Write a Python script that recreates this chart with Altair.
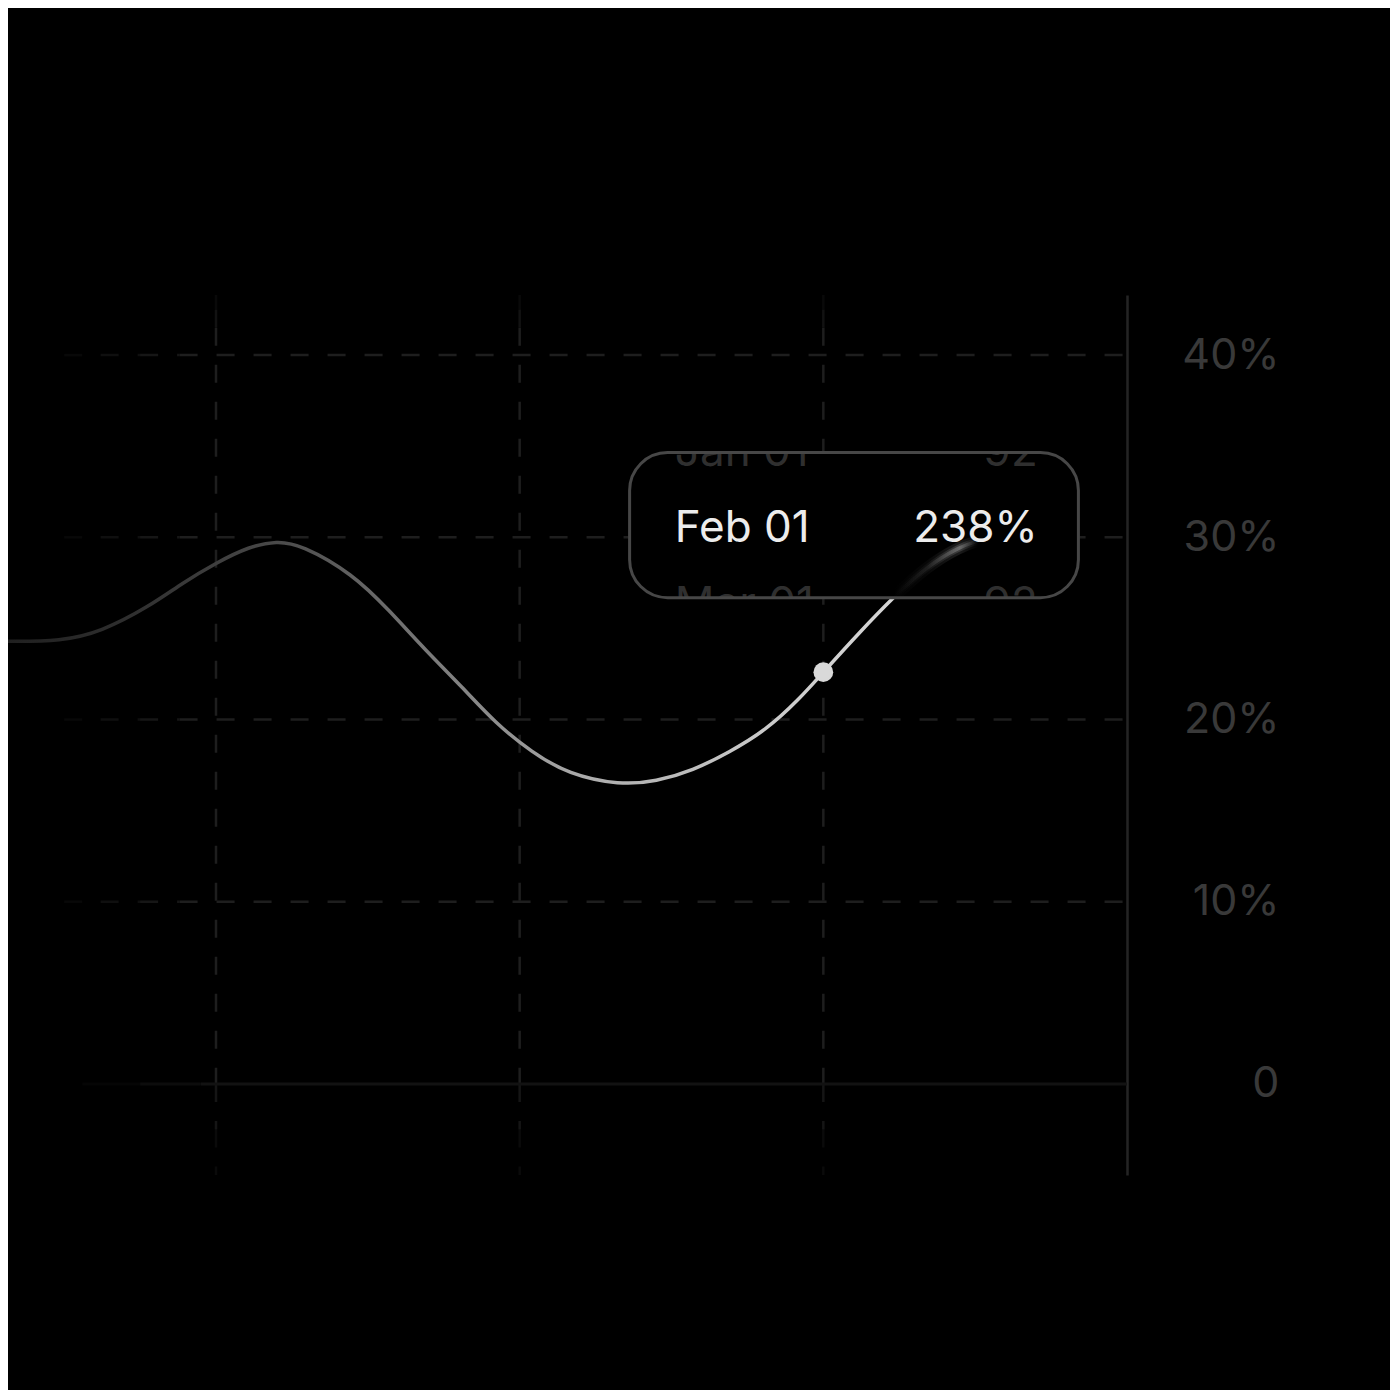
import altair as alt
import pandas as pd

# ---- data ----
LINE_X = [0.315, 0.49, 0.62, 0.78, 0.89, 1.00, 1.11, 1.20, 1.28, 1.45, 1.57, 1.69, 1.81, 1.92,
          2.04, 2.16, 2.33, 2.45, 2.57, 2.69, 2.81, 2.92, 3.00, 3.12, 3.23, 3.34, 3.45, 3.51]
LINE_Y = [24.3, 24.3, 24.8, 26.2, 27.5, 28.6, 29.5, 29.8, 29.6, 28.0, 26.0, 23.8, 21.8, 19.8,
          18.2, 17.0, 16.4, 16.6, 17.2, 18.2, 19.4, 21.1, 22.6, 24.8, 26.7, 28.4, 29.5, 29.8]
GLOW_FROM = 3.23

FOCUS_X = [3.0]
FOCUS_Y = [22.6]

Y_TICKS = [0, 10, 20, 30, 40]
H_GRID = [10, 20, 30, 40]
V_GRID = [1, 2, 3]
X_DOMAIN = [0.315, 4.0]
Y_DOMAIN = [-5.0, 43.3]

# fade segments (start, end, opacity)
H_FADE = [(0.50, 0.62, 0.25), (0.62, 0.75, 0.5), (0.75, 0.88, 0.75), (0.88, 4.0, 1.0)]
V_FADE = [(43.3, 42.5, 0.3), (42.5, 41.5, 0.6), (41.5, 0.0, 1.0), (0.0, -2.5, 0.7), (-2.5, -5.0, 0.35)]
ZERO_FADE = [(0.56, 0.75, 0.3), (0.75, 0.95, 0.65), (0.95, 4.0, 1.0)]

TIP_DATES = ["Jan 01", "Feb 01", "Mar 01"]
TIP_VALUES = ["92", "238%", "92"]
TIP_ROW_Y = [33.91, 29.74, 25.57]
TIP_ACTIVE = [False, True, False]
TIP_LEFT = 2.511
TIP_RIGHT = 3.706
BOX_X = [2.362, 3.840]
BOX_Y = [26.69, 34.65]
MASK_X = [(2.48, 2.98), (3.50, 3.73)]
MASK_Y = [(34.65, 36.3), (25.1, 26.69)]

# ---- helpers ----
XS = alt.Scale(domain=X_DOMAIN, nice=False, zero=False)
YS = alt.Scale(domain=Y_DOMAIN, nice=False, zero=False)
YAXIS = alt.Axis(orient="right", values=Y_TICKS,
                 labelExpr="datum.value == 0 ? '0' : datum.value + '%'",
                 grid=False, ticks=False, tickSize=0, domain=True,
                 domainColor="#242424", domainWidth=2.5,
                 labelFont="Inter", labelFontSize=43, labelColor="#393939",
                 labelAlign="right", labelPadding=152, title=None,
                 labelFlush=False, labelOverlap=False)


def X(f="x"):
    return alt.X(f"{f}:Q", scale=XS, axis=None)


def Y(f="y"):
    return alt.Y(f"{f}:Q", scale=YS, axis=YAXIS)


GRID_COLOR = "#1e1e1e"

hrows = [dict(x=a, x2=b, y=v, op=o) for v in H_GRID for (a, b, o) in H_FADE]
vrows = [dict(x=v, y=a, y2=b, op=o) for v in V_GRID for (a, b, o) in V_FADE]
zrows = [dict(x=a, x2=b, y=0, op=o) for (a, b, o) in ZERO_FADE]

hgrid = alt.Chart(pd.DataFrame(hrows)).mark_rule(
    color=GRID_COLOR, strokeWidth=2.5, strokeDash=[18, 19]
).encode(x=X(), x2="x2:Q", y=Y(), opacity=alt.Opacity("op:Q", scale=None))

vgrid = alt.Chart(pd.DataFrame(vrows)).mark_rule(
    color=GRID_COLOR, strokeWidth=2.5, strokeDash=[18, 19]
).encode(x=X(), y=Y(), y2="y2:Q", opacity=alt.Opacity("op:Q", scale=None))

zline = alt.Chart(pd.DataFrame(zrows)).mark_rule(
    color="#121212", strokeWidth=3
).encode(x=X(), x2="x2:Q", y=Y(), opacity=alt.Opacity("op:Q", scale=None))

line_df = pd.DataFrame({"x": LINE_X, "y": LINE_Y})
line_grad = {
    "gradient": "linear", "x1": 0, "x2": 1, "y1": 0, "y2": 0,
    "stops": [
        {"offset": 0.0, "color": "#202020"},
        {"offset": 0.12, "color": "#2e2e2e"},
        {"offset": 0.28, "color": "#4a4a4a"},
        {"offset": 0.45, "color": "#7e7e7e"},
        {"offset": 0.6, "color": "#adadad"},
        {"offset": 0.8, "color": "#cdcdcd"},
        {"offset": 1.0, "color": "#dcdcdc"},
    ],
}
line = alt.Chart(line_df).mark_line(
    interpolate="basis", strokeWidth=3.5, color=line_grad, strokeCap="round"
).encode(x=X(), y=Y())

focus = alt.Chart(pd.DataFrame({"x": FOCUS_X, "y": FOCUS_Y})).mark_circle(
    size=390, color="#d9d9d9", opacity=1
).encode(x=X(), y=Y())

box_df = pd.DataFrame({"x": [BOX_X[0]], "x2": [BOX_X[1]], "y": [BOX_Y[0]], "y2": [BOX_Y[1]]})
box_fill = alt.Chart(box_df).mark_rect(
    cornerRadius=38, color="#000000", opacity=1
).encode(x=X(), x2="x2:Q", y=Y(), y2="y2:Q")
box_border = alt.Chart(box_df).mark_rect(
    cornerRadius=38, fill=None, fillOpacity=0, stroke="#474747", strokeWidth=3
).encode(x=X(), x2="x2:Q", y=Y(), y2="y2:Q")

tip_df = pd.DataFrame({"date": TIP_DATES, "val": TIP_VALUES, "y": TIP_ROW_Y,
                       "active": TIP_ACTIVE,
                       "xl": [TIP_LEFT] * 3, "xr": [TIP_RIGHT] * 3})
faded = tip_df[~tip_df["active"]]
active = tip_df[tip_df["active"]]

FADED_COLOR = "#2f2f2f"
faded_l = alt.Chart(faded).mark_text(
    font="Inter", fontSize=44, color=FADED_COLOR, align="left", baseline="alphabetic"
).encode(x=X("xl"), y=Y(), text="date:N")
faded_r = alt.Chart(faded).mark_text(
    font="Inter", fontSize=44, color=FADED_COLOR, align="right", baseline="alphabetic"
).encode(x=X("xr"), y=Y(), text="val:N")

mask_df = pd.DataFrame([dict(x=a, x2=b, y=c, y2=d) for (a, b) in MASK_X for (c, d) in MASK_Y])
masks = alt.Chart(mask_df).mark_rect(color="#000000", opacity=1).encode(
    x=X(), x2="x2:Q", y=Y(), y2="y2:Q")

glow_df = line_df[line_df["x"] >= GLOW_FROM]
glow_grad = {
    "gradient": "linear", "x1": 0, "x2": 1, "y1": 0, "y2": 0,
    "stops": [
        {"offset": 0.0, "color": "rgba(190,190,190,0)"},
        {"offset": 0.4, "color": "rgba(190,190,190,0.10)"},
        {"offset": 0.78, "color": "rgba(205,205,205,0.38)"},
        {"offset": 1.0, "color": "rgba(205,205,205,0.0)"},
    ],
}
glow_wide = alt.Chart(glow_df).mark_line(
    interpolate="basis", strokeWidth=12, color=glow_grad, opacity=0.35, strokeCap="round"
).encode(x=X(), y=Y())
glow_mid = alt.Chart(glow_df).mark_line(
    interpolate="basis", strokeWidth=7, color=glow_grad, opacity=0.5, strokeCap="round"
).encode(x=X(), y=Y())
glow_core = alt.Chart(glow_df).mark_line(
    interpolate="basis", strokeWidth=3.5, color=glow_grad, opacity=0.8, strokeCap="round"
).encode(x=X(), y=Y())

main_l = alt.Chart(active).mark_text(
    font="Inter", fontSize=44, color="#ececec", align="left", baseline="alphabetic"
).encode(x=X("xl"), y=Y(), text="date:N")
main_r = alt.Chart(active).mark_text(
    font="Inter", fontSize=44, color="#ececec", align="right", baseline="alphabetic"
).encode(x=X("xr"), y=Y(), text="val:N")

chart = alt.layer(
    hgrid, vgrid, zline, line, focus, box_fill, faded_l, faded_r, masks,
    glow_wide, glow_mid, glow_core, box_border, main_l, main_r
).properties(
    width=1119, height=880,
    autosize=alt.AutoSizeParams(type="none"),
    padding={"left": 0, "top": 287, "right": 263, "bottom": 215},
    background="#000000",
).configure_view(stroke=None)

chart.save("out.html", embed_options={"renderer": "svg", "actions": False})
